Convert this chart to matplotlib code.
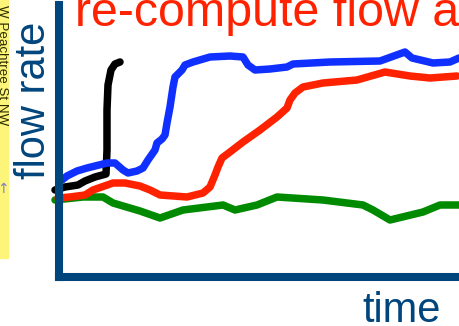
import matplotlib.pyplot as plt
from matplotlib.patches import Rectangle

# flow rate traces over time (time 0..400, flow 0..272)
black_t = [-4, 6, 19, 26, 36, 47, 48, 48, 49, 52, 56, 61]
black_f = [87, 90, 92, 96, 100, 103, 127, 167, 192, 207, 213, 215]

blue_t = [3, 8, 18, 28, 48, 56, 64, 69, 78, 84, 89, 96, 98, 103, 106, 108, 111,
          114, 116, 123, 126, 134, 151, 171, 184, 189, 196, 211, 228, 234, 271,
          321, 346, 353, 374, 391, 400]
blue_f = [97, 101, 106, 109, 114, 114, 107, 104, 106, 109, 117, 127, 134, 138,
          142, 154, 170, 190, 200, 207, 212, 215, 220, 221, 220, 212, 207, 208,
          210, 213, 215, 216, 225, 219, 214, 215, 219]

red_t = [-1, 11, 26, 34, 54, 66, 81, 91, 101, 128, 144, 151, 156, 159, 163,
         171, 184, 201, 218, 228, 231, 236, 244, 264, 298, 326, 351, 371, 398]
red_f = [79, 80, 82, 87, 94, 94, 91, 87, 82, 80, 84, 90, 102, 110, 119, 125,
         135, 147, 160, 169, 177, 184, 190, 194, 197, 205, 201, 199, 201]

green_t = [-4, 24, 44, 54, 81, 101, 124, 164, 176, 198, 218, 264, 304, 314,
           331, 364, 381, 400]
green_f = [77, 80, 80, 74, 66, 59, 67, 72, 67, 72, 80, 77, 72, 67, 57, 65, 72, 72]

axis_blue = '#00457c'

fig = plt.figure(figsize=(4.59, 3.26), dpi=100)
fig.patch.set_facecolor('white')

ax = fig.add_axes([59 / 459, 49 / 326, 400 / 459, 272 / 326])
ax.set_xlim(0, 400)
ax.set_ylim(0, 272)
ax.set_xticks([])
ax.set_yticks([])
for side in ['top', 'right']:
    ax.spines[side].set_visible(False)
for side in ['left', 'bottom']:
    ax.spines[side].set_color(axis_blue)
    ax.spines[side].set_linewidth(5.8)
    ax.spines[side].set_capstyle('projecting')

lw = 5.4
for t, f, c in [(green_t, green_f, '#008a00'),
                (red_t, red_f, '#ff2200'),
                (black_t, black_f, 'black'),
                (blue_t, blue_f, '#1030ff')]:
    ax.plot(t, f, color=c, lw=lw, solid_capstyle='round',
            solid_joinstyle='round', clip_on=False)

# heading cut off by the slide crop
fig.text(75 / 459, (326 - 26) / 326, 're-compute flow a', color='#ff2200',
         fontsize=34.8, family='Liberation Sans', va='baseline', ha='left')

fig.text(45 / 459, (326 - 100) / 326, 'flow rate', color=axis_blue,
         fontsize=30, family='Liberation Sans', rotation=90,
         rotation_mode='anchor', ha='center', va='baseline')
fig.text(402 / 459, 4 / 326, 'time', color=axis_blue,
         fontsize=30, family='Liberation Sans', ha='center', va='baseline')

# street map strip at the left edge
fig.patches.append(Rectangle((0, (326 - 258) / 326), 7.5 / 459, 258 / 326,
                             transform=fig.transFigure, color='#fdf57a',
                             zorder=0))
fig.text(-1 / 459, (326 - 5) / 326, 'W Peachtree St NW', color='#2a2a00',
         fontsize=9.6, family='Liberation Sans', rotation=-90,
         rotation_mode='anchor', ha='left', va='baseline')
fig.text(3 / 459, (326 - 189) / 326, '↑', color='#8080c8', fontsize=10,
         ha='center', va='center')

fig.savefig('out.png', dpi=100)
